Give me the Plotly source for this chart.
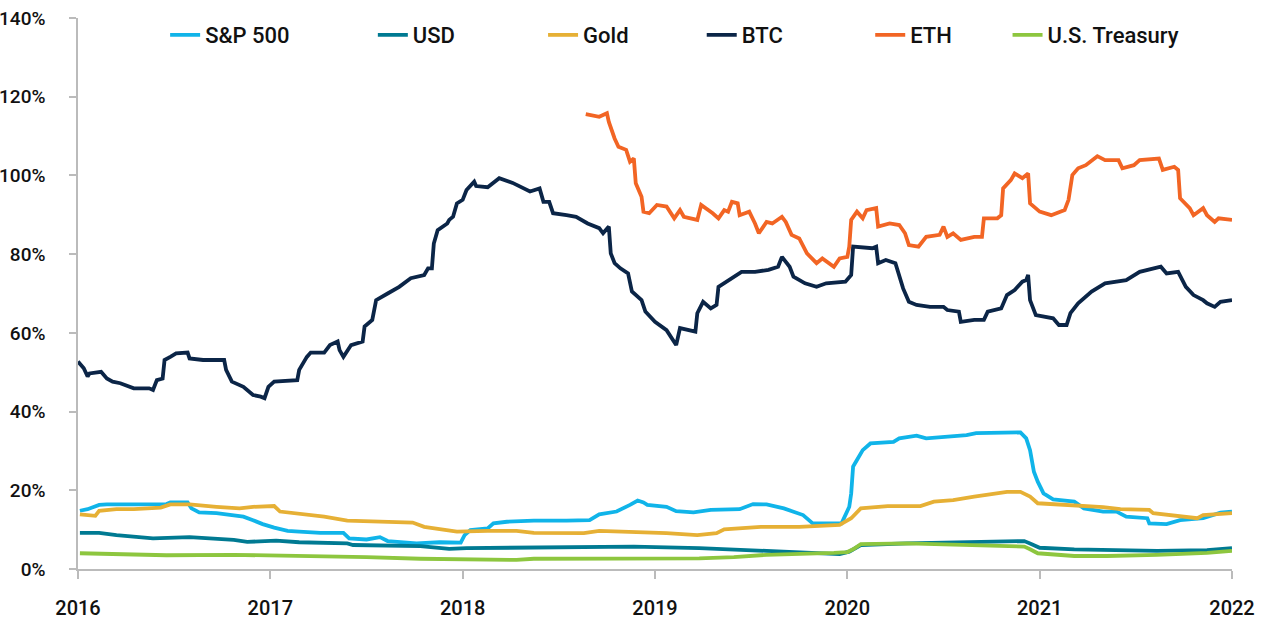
"""Rolling volatility of assets, 2016-2022 — line chart."""
import plotly.graph_objects as go

# ─── data (x = decimal year, y = volatility in %) ───

btc_x = [2016.00, 2016.03, 2016.05, 2016.06, 2016.12, 2016.15, 2016.18, 2016.22, 2016.29, 2016.37,
         2016.39, 2016.41, 2016.44, 2016.45, 2016.48, 2016.51, 2016.57, 2016.58, 2016.65, 2016.76,
         2016.77, 2016.80, 2016.86, 2016.91, 2016.95, 2016.97, 2016.99, 2017.02, 2017.14, 2017.15,
         2017.19, 2017.21, 2017.28, 2017.31, 2017.35, 2017.36, 2017.38, 2017.42, 2017.48, 2017.49,
         2017.53, 2017.55, 2017.61, 2017.67, 2017.73, 2017.80, 2017.82, 2017.84, 2017.85, 2017.87,
         2017.92, 2017.93, 2017.95, 2017.97, 2018.00, 2018.02, 2018.06, 2018.07, 2018.13, 2018.19,
         2018.26, 2018.35, 2018.40, 2018.42, 2018.45, 2018.47, 2018.54, 2018.59, 2018.65, 2018.71,
         2018.73, 2018.76, 2018.77, 2018.79, 2018.82, 2018.86, 2018.88, 2018.93, 2018.95, 2019.00,
         2019.06, 2019.09, 2019.11, 2019.13, 2019.21, 2019.22, 2019.25, 2019.29, 2019.32, 2019.33,
         2019.38, 2019.42, 2019.45, 2019.52, 2019.59, 2019.64, 2019.66, 2019.70, 2019.72, 2019.78,
         2019.84, 2019.89, 2019.99, 2020.02, 2020.03, 2020.13, 2020.15, 2020.16, 2020.20, 2020.25,
         2020.29, 2020.32, 2020.36, 2020.43, 2020.50, 2020.52, 2020.58, 2020.59, 2020.66, 2020.71,
         2020.73, 2020.80, 2020.83, 2020.87, 2020.91, 2020.93, 2020.94, 2020.95, 2020.98, 2021.07,
         2021.10, 2021.14, 2021.16, 2021.20, 2021.27, 2021.34, 2021.45, 2021.52, 2021.63, 2021.66,
         2021.72, 2021.76, 2021.80, 2021.85, 2021.87, 2021.91, 2021.94, 2022.00]
btc_y = [52.7, 51.0, 48.9, 49.7, 50.1, 48.4, 47.6, 47.2, 45.9, 45.9,
         45.5, 48.0, 48.4, 53.1, 53.9, 54.8, 55.0, 53.5, 53.1, 53.1,
         50.6, 47.6, 46.3, 44.2, 43.8, 43.4, 46.3, 47.6, 48.0, 50.6,
         53.9, 55.0, 55.0, 56.9, 57.8, 55.6, 53.9, 56.9, 57.8, 61.6,
         63.3, 68.3, 70.0, 71.7, 73.9, 74.7, 76.4, 76.4, 82.7, 86.1,
         87.8, 88.7, 89.5, 92.9, 93.8, 96.3, 98.4, 97.3, 97.0, 99.3,
         98.1, 95.9, 96.7, 93.3, 93.3, 90.4, 89.9, 89.5, 87.8, 86.6,
         85.3, 87.0, 80.2, 77.7, 76.4, 75.1, 70.5, 68.3, 65.4, 62.8,
         60.7, 58.6, 56.9, 61.2, 60.3, 65.0, 67.9, 66.2, 67.1, 71.7,
         73.4, 74.7, 75.5, 75.5, 76.0, 76.8, 79.3, 76.8, 74.3, 72.6,
         71.7, 72.6, 73.0, 74.7, 81.9, 81.5, 81.9, 77.7, 78.5, 77.7,
         71.3, 67.9, 67.1, 66.6, 66.6, 65.8, 65.4, 62.8, 63.3, 63.3,
         65.4, 66.2, 69.6, 70.9, 73.0, 73.4, 74.7, 68.3, 64.5, 63.7,
         62.0, 62.0, 65.0, 67.5, 70.5, 72.6, 73.4, 75.5, 76.8, 75.1,
         75.5, 71.7, 69.6, 68.3, 67.5, 66.6, 67.9, 68.3]

eth_x = [2018.64, 2018.71, 2018.75, 2018.76, 2018.79, 2018.81, 2018.85, 2018.87, 2018.89, 2018.90,
         2018.93, 2018.94, 2018.97, 2019.01, 2019.06, 2019.10, 2019.13, 2019.15, 2019.22, 2019.24,
         2019.30, 2019.33, 2019.36, 2019.38, 2019.40, 2019.43, 2019.44, 2019.49, 2019.52, 2019.54,
         2019.58, 2019.61, 2019.66, 2019.68, 2019.71, 2019.75, 2019.79, 2019.84, 2019.87, 2019.93,
         2019.96, 2020.00, 2020.01, 2020.02, 2020.05, 2020.08, 2020.10, 2020.15, 2020.16, 2020.22,
         2020.27, 2020.30, 2020.32, 2020.37, 2020.41, 2020.48, 2020.50, 2020.52, 2020.55, 2020.59,
         2020.66, 2020.70, 2020.71, 2020.78, 2020.80, 2020.81, 2020.85, 2020.87, 2020.91, 2020.94,
         2020.95, 2021.00, 2021.06, 2021.13, 2021.15, 2021.17, 2021.20, 2021.24, 2021.30, 2021.34,
         2021.41, 2021.43, 2021.49, 2021.52, 2021.62, 2021.64, 2021.70, 2021.72, 2021.73, 2021.78,
         2021.80, 2021.85, 2021.87, 2021.91, 2021.93, 2022.00]
eth_y = [115.6, 114.9, 115.8, 113.6, 109.4, 107.3, 106.5, 103.5, 104.3, 98.0,
         94.6, 90.8, 90.4, 92.5, 92.1, 89.1, 91.2, 89.5, 88.7, 92.5,
         90.4, 89.1, 91.2, 90.8, 93.3, 92.9, 89.9, 90.8, 87.8, 85.3,
         88.2, 87.8, 89.5, 88.2, 84.9, 84.0, 80.2, 77.7, 78.9, 76.8,
         78.9, 79.3, 81.9, 88.7, 90.8, 89.1, 91.2, 91.7, 87.0, 87.8,
         87.4, 85.3, 82.3, 81.9, 84.4, 84.9, 87.0, 84.4, 85.3, 83.6,
         84.4, 84.4, 89.1, 89.1, 89.9, 96.7, 98.8, 100.5, 99.3, 100.5,
         92.9, 90.8, 89.9, 91.2, 93.8, 100.1, 101.8, 102.6, 104.9, 103.9,
         103.9, 101.8, 102.6, 103.9, 104.3, 101.4, 102.2, 101.4, 94.2, 91.7,
         89.9, 91.7, 89.9, 88.2, 89.1, 88.7]

spx_x = [2016.01, 2016.05, 2016.11, 2016.15, 2016.29, 2016.46, 2016.48, 2016.57, 2016.59, 2016.63,
         2016.72, 2016.81, 2016.86, 2016.91, 2016.96, 2017.02, 2017.09, 2017.15, 2017.26, 2017.38,
         2017.41, 2017.50, 2017.57, 2017.61, 2017.76, 2017.88, 2017.99, 2018.01, 2018.04, 2018.13,
         2018.16, 2018.23, 2018.37, 2018.54, 2018.66, 2018.71, 2018.80, 2018.87, 2018.91, 2018.94,
         2018.96, 2019.06, 2019.11, 2019.20, 2019.29, 2019.44, 2019.51, 2019.58, 2019.67, 2019.77,
         2019.82, 2019.97, 2020.01, 2020.02, 2020.03, 2020.05, 2020.08, 2020.12, 2020.24, 2020.27,
         2020.36, 2020.41, 2020.50, 2020.62, 2020.67, 2020.88, 2020.90, 2020.93, 2020.95, 2020.97,
         2020.99, 2021.02, 2021.07, 2021.18, 2021.23, 2021.33, 2021.40, 2021.45, 2021.56, 2021.57,
         2021.66, 2021.73, 2021.85, 2021.94, 2022.00]
spx_y = [14.8, 15.2, 16.3, 16.4, 16.4, 16.5, 16.9, 16.9, 15.4, 14.4,
         14.2, 13.7, 13.3, 12.4, 11.4, 10.5, 9.7, 9.5, 9.2, 9.2,
         7.8, 7.5, 8.1, 7.1, 6.5, 6.8, 6.7, 8.6, 9.9, 10.3,
         11.6, 12.0, 12.3, 12.3, 12.4, 13.9, 14.6, 16.3, 17.4, 16.9,
         16.3, 15.8, 14.7, 14.4, 15.0, 15.2, 16.5, 16.4, 15.4, 13.7,
         11.6, 11.6, 15.8, 19.2, 26.0, 27.7, 30.2, 31.9, 32.3, 33.2,
         33.9, 33.2, 33.6, 34.0, 34.5, 34.5, 34.7, 33.2, 30.2, 24.7,
         22.2, 19.2, 17.7, 17.1, 15.4, 14.6, 14.6, 13.3, 12.9, 11.6,
         11.4, 12.4, 12.9, 14.3, 14.6]

gold_x = [2016.01, 2016.09, 2016.11, 2016.20, 2016.29, 2016.43, 2016.48, 2016.58, 2016.72, 2016.84,
          2016.91, 2017.02, 2017.05, 2017.15, 2017.28, 2017.40, 2017.50, 2017.74, 2017.80, 2017.97,
          2018.13, 2018.28, 2018.37, 2018.63, 2018.71, 2018.89, 2019.06, 2019.22, 2019.32, 2019.36,
          2019.55, 2019.75, 2019.96, 2020.02, 2020.07, 2020.21, 2020.38, 2020.45, 2020.55, 2020.66,
          2020.83, 2020.90, 2020.95, 2020.99, 2021.07, 2021.21, 2021.33, 2021.42, 2021.57, 2021.59,
          2021.73, 2021.82, 2021.85, 2022.00]
gold_y = [13.9, 13.5, 14.8, 15.2, 15.2, 15.6, 16.4, 16.4, 15.8, 15.4,
          15.8, 16.0, 14.6, 14.0, 13.3, 12.3, 12.2, 11.8, 10.7, 9.5,
          9.7, 9.7, 9.2, 9.1, 9.7, 9.5, 9.1, 8.6, 9.1, 10.1,
          10.7, 10.7, 11.2, 12.9, 15.4, 16.0, 16.0, 17.1, 17.5, 18.4,
          19.6, 19.6, 18.4, 16.7, 16.5, 16.0, 15.7, 15.2, 15.0, 14.2,
          13.5, 12.9, 13.7, 14.2]

usd_x = [2016.01, 2016.11, 2016.20, 2016.39, 2016.58, 2016.81, 2016.88, 2017.03, 2017.15, 2017.40,
         2017.43, 2017.78, 2017.93, 2018.02, 2018.89, 2019.23, 2019.58, 2019.88, 2019.96, 2020.01,
         2020.07, 2020.31, 2020.66, 2020.92, 2020.95, 2021.00, 2021.18, 2021.35, 2021.61, 2021.87,
         2022.00]
usd_y = [9.2, 9.2, 8.6, 7.8, 8.1, 7.4, 6.9, 7.2, 6.8, 6.5,
         6.1, 5.8, 5.1, 5.3, 5.7, 5.3, 4.6, 4.1, 3.8, 4.4,
         6.1, 6.5, 6.9, 7.1, 6.5, 5.4, 5.0, 4.8, 4.6, 4.8,
         5.3]

ust_x = [2016.01, 2016.29, 2016.46, 2016.81, 2017.33, 2017.50, 2017.78, 2018.02, 2018.28, 2018.37,
         2019.23, 2019.41, 2019.58, 2019.93, 2020.00, 2020.03, 2020.07, 2020.31, 2020.57, 2020.92,
         2020.95, 2020.99, 2021.18, 2021.35, 2021.61, 2021.87, 2022.00]
ust_y = [4.0, 3.8, 3.5, 3.6, 3.3, 3.0, 2.6, 2.5, 2.3, 2.6,
         2.7, 3.0, 3.6, 4.1, 4.3, 5.0, 6.3, 6.5, 6.1, 5.7,
         5.0, 4.0, 3.3, 3.3, 3.6, 4.1, 4.6]

years = [2016, 2017, 2018, 2019, 2020, 2021, 2022]
y_ticks = [0, 20, 40, 60, 80, 100, 120, 140]

series = [
    ("S&P 500", spx_x, spx_y, "#10B4E9"),
    ("USD", usd_x, usd_y, "#007A92"),
    ("Gold", gold_x, gold_y, "#E6B035"),
    ("BTC", btc_x, btc_y, "#0B2547"),
    ("ETH", eth_x, eth_y, "#F26524"),
    ("U.S. Treasury", ust_x, ust_y, "#8DC63F"),
]
# left edge of each legend entry, as a fraction of the plot width
legend_pos = [0.0755, 0.2555, 0.403, 0.5405, 0.6865, 0.8055]

FONT = "Roboto, Arial, sans-serif"

fig = go.Figure()
legends = {}
for i, (name, xs, ys, color) in enumerate(series):
    key = "legend" if i == 0 else f"legend{i + 1}"
    fig.add_trace(go.Scatter(
        x=xs, y=ys, name=name, mode="lines",
        line=dict(color=color, width=3.8),
        legend=key,
    ))
    legends[key] = dict(
        orientation="h", x=legend_pos[i], y=0.969, xanchor="left", yanchor="middle",
        bgcolor="rgba(0,0,0,0)", font=dict(size=22, weight=500),
    )

fig.update_layout(
    width=1261, height=622,
    margin=dict(l=78, r=29, t=18, b=53, autoexpand=False),
    paper_bgcolor="white", plot_bgcolor="white",
    font=dict(family=FONT, size=19, color="#111111"),
    showlegend=True,
    **legends,
    xaxis=dict(
        range=[2016, 2022], tickvals=years, ticktext=[str(y) for y in years],
        showgrid=False, zeroline=False, automargin=False,
        showline=True, linecolor="#BBBBBB", linewidth=1.5,
        ticks="outside", ticklen=8, tickcolor="#BBBBBB", tickwidth=1.5,
        tickfont=dict(size=20, weight=500), ticklabelstandoff=12,
        ticklabeloverflow="allow",
    ),
    yaxis=dict(
        range=[0, 140], tickvals=y_ticks, ticktext=[f"{v}%" for v in y_ticks],
        showgrid=False, zeroline=False, automargin=False,
        showline=True, linecolor="#BBBBBB", linewidth=1.5,
        ticks="outside", ticklen=7, tickcolor="#BBBBBB", tickwidth=1.5,
        tickfont=dict(size=19, weight=500), ticklabelstandoff=20,
        ticklabeloverflow="allow",
    ),
)

# drop the browser's default body margin so the figure sits at the window corner
fig.write_html(
    "out.html",
    config={"displayModeBar": False},
    post_script="document.body.style.margin = '0';",
)
